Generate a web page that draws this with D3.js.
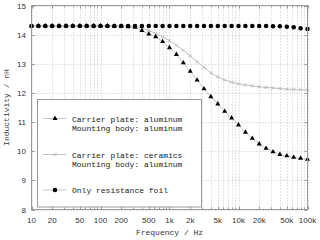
<!DOCTYPE html>
<html>
<head>
<meta charset="utf-8">
<script src="https://cdn.jsdelivr.net/npm/d3@7"></script>
<style>
  body { margin: 0; background: #fff; }
  svg { display: block; }
</style>
</head>
<body>
<svg width="320" height="240"></svg>
<script>
// frequency points, Hz (10 per decade)
const freq = [10, 12.59, 15.85, 19.95, 25.12, 31.62, 39.81, 50.12, 63.10, 79.43,
  100, 125.9, 158.5, 199.5, 251.2, 316.2, 398.1, 501.2, 631.0, 794.3,
  1000, 1259, 1585, 1995, 2512, 3162, 3981, 5012, 6310, 7943,
  10000, 12589, 15849, 19953, 25119, 31623, 39811, 50119, 63096, 79433, 100000];

// inductivity, nH
const aluminum = [14.30, 14.30, 14.30, 14.30, 14.30, 14.30, 14.30, 14.30, 14.30, 14.30,
  14.30, 14.30, 14.29, 14.29, 14.27, 14.25, 14.14, 14.02, 13.93, 13.76,
  13.55, 13.32, 13.03, 12.74, 12.44, 12.14, 11.87, 11.62, 11.37, 11.14,
  10.90, 10.65, 10.44, 10.25, 10.10, 9.98, 9.89, 9.84, 9.79, 9.76, 9.72];
const ceramics = [14.30, 14.30, 14.30, 14.30, 14.30, 14.30, 14.30, 14.30, 14.30, 14.30,
  14.30, 14.30, 14.30, 14.30, 14.29, 14.28, 14.22, 14.14, 14.04, 13.93,
  13.79, 13.63, 13.46, 13.27, 13.07, 12.88, 12.69, 12.55, 12.44, 12.37,
  12.31, 12.27, 12.24, 12.21, 12.19, 12.17, 12.15, 12.13, 12.12, 12.11, 12.10];
const foil = [14.30, 14.30, 14.30, 14.30, 14.30, 14.30, 14.30, 14.30, 14.30, 14.30,
  14.30, 14.30, 14.30, 14.30, 14.30, 14.30, 14.30, 14.30, 14.30, 14.30,
  14.30, 14.30, 14.30, 14.30, 14.30, 14.30, 14.30, 14.30, 14.30, 14.30,
  14.30, 14.30, 14.30, 14.30, 14.30, 14.29, 14.29, 14.27, 14.25, 14.22, 14.19];

const xTickValues = [10, 20, 50, 100, 200, 500, 1000, 2000, 5000, 10000, 20000, 50000, 100000];
const xTickLabels = ["10", "20", "50", "100", "200", "500", "1k", "2k", "5k", "10k", "20k", "50k", "100k"];
const yTickValues = [8, 9, 10, 11, 12, 13, 14, 15];

const legendLabels = [
  ["Carrier plate: aluminum", "Mounting body: aluminum"],
  ["Carrier plate: ceramics", "Mounting body: aluminum"],
  ["Only resistance foil"]
];

const svg = d3.select("svg");
const pLeft = 31.5, pRight = 307.5, pTop = 5.5, pBottom = 209.5;
const mono = "'Liberation Mono', 'DejaVu Sans Mono', monospace";
const sans = "'Liberation Sans', Arial, sans-serif";

const x = d3.scaleLog().domain([10, 100000]).range([pLeft, pRight]);
const y = d3.scaleLinear().domain([8, 15]).range([pBottom, pTop]);

svg.append("rect").attr("width", 320).attr("height", 240).attr("fill", "#fff");

// grid (dotted), all log minor lines + integer y lines
const grid = svg.append("g").attr("stroke", "#c8c8c8").attr("stroke-width", 1)
  .attr("stroke-dasharray", "1,2");
grid.selectAll("line.gx").data(x.ticks()).join("line")
  .attr("x1", d => Math.round(x(d)) + 0.5).attr("x2", d => Math.round(x(d)) + 0.5)
  .attr("y1", pTop).attr("y2", pBottom);
grid.selectAll("line.gy").data(yTickValues).join("line")
  .attr("x1", pLeft).attr("x2", pRight)
  .attr("y1", d => Math.round(y(d)) + 0.5).attr("y2", d => Math.round(y(d)) + 0.5);

// series
const pts = (vals) => freq.map((f, i) => [f, vals[i]]);
const line = d3.line().x(d => x(d[0])).y(d => y(d[1]));
const tri = d3.symbol().type(d3.symbolTriangle).size(11);
const sym = d3.symbol().type(d3.symbolCircle).size(16);

function drawAluminum(g, data) {
  g.append("path").datum(data).attr("d", line)
    .attr("fill", "none").attr("stroke", "#aaa").attr("stroke-width", 0.7);
  g.selectAll("path.m").data(data).join("path").attr("class", "m")
    .attr("d", tri).attr("fill", "#000")
    .attr("transform", d => `translate(${x(d[0])},${y(d[1])})`);
}
function drawCross(g, cx, cy) {
  g.append("path")
    .attr("d", `M${cx - 1.6},${cy - 1.6}L${cx + 1.6},${cy + 1.6}M${cx - 1.6},${cy + 1.6}L${cx + 1.6},${cy - 1.6}`)
    .attr("stroke", "#b4b4b4").attr("stroke-width", 0.8);
}
function drawCeramics(g, data) {
  g.append("path").datum(data).attr("d", line)
    .attr("fill", "none").attr("stroke", "#c0c0c0").attr("stroke-width", 1);
  data.forEach(d => drawCross(g, x(d[0]), y(d[1])));
}
function drawFoil(g, data) {
  g.selectAll("path.m").data(data).join("path").attr("class", "m")
    .attr("d", sym).attr("fill", "#000")
    .attr("transform", d => `translate(${x(d[0])},${y(d[1])})`);
}

drawCeramics(svg.append("g"), pts(ceramics));
drawAluminum(svg.append("g"), pts(aluminum));
drawFoil(svg.append("g"), pts(foil));

// legend
const lg = svg.append("g");
lg.append("rect").attr("x", 37.5).attr("y", 99.5).attr("width", 164).attr("height", 107.5)
  .attr("fill", "#fff").attr("stroke", "#999").attr("stroke-width", 1);
const rowsY = [118.5, 154.5, 190];
rowsY.forEach((ry, i) => {
  lg.append("line").attr("x1", 43).attr("x2", 66).attr("y1", ry).attr("y2", ry)
    .attr("stroke", i == 1 ? "#c0c0c0" : "#aaa").attr("stroke-width", i == 1 ? 1 : 0.7);
  if (i == 0) lg.append("path").attr("d", tri).attr("fill", "#000").attr("transform", `translate(55,${ry})`);
  if (i == 1) drawCross(lg, 55, ry);
  if (i == 2) lg.append("path").attr("d", sym).attr("fill", "#000").attr("transform", `translate(55,${ry})`);
  legendLabels[i].forEach((t, j) => {
    lg.append("text").attr("x", 72).attr("y", ry + 3 + j * 9).text(t)
      .attr("font-family", mono).attr("font-size", 8).attr("fill", "#222");
  });
});

// frame and ticks
const frame = svg.append("g").attr("stroke", "#999").attr("stroke-width", 1).attr("fill", "none");
frame.append("rect").attr("x", pLeft).attr("y", pTop).attr("width", pRight - pLeft).attr("height", pBottom - pTop);
const isMajor = d => xTickValues.includes(d);
frame.selectAll("line.bx").data(x.ticks()).join("line")
  .attr("x1", d => Math.round(x(d)) + 0.5).attr("x2", d => Math.round(x(d)) + 0.5)
  .attr("y1", pBottom).attr("y2", d => pBottom - (isMajor(d) ? 3 : 2));
frame.selectAll("line.tx").data(x.ticks()).join("line")
  .attr("x1", d => Math.round(x(d)) + 0.5).attr("x2", d => Math.round(x(d)) + 0.5)
  .attr("y1", pTop).attr("y2", d => pTop + (isMajor(d) ? 3 : 2));
frame.selectAll("line.ly").data(yTickValues).join("line")
  .attr("x1", pLeft).attr("x2", pLeft + 3)
  .attr("y1", d => Math.round(y(d)) + 0.5).attr("y2", d => Math.round(y(d)) + 0.5);
frame.selectAll("line.ry").data(yTickValues).join("line")
  .attr("x1", pRight).attr("x2", pRight - 3)
  .attr("y1", d => Math.round(y(d)) + 0.5).attr("y2", d => Math.round(y(d)) + 0.5);

// tick labels
svg.append("g").selectAll("text").data(xTickValues).join("text")
  .attr("x", d => x(d)).attr("y", 223)
  .attr("text-anchor", "middle").attr("font-family", sans).attr("font-size", 8).attr("fill", "#333")
  .text((d, i) => xTickLabels[i]);
svg.append("g").selectAll("text").data(yTickValues).join("text")
  .attr("x", 26).attr("y", d => y(d) + 3)
  .attr("text-anchor", "end").attr("font-family", sans).attr("font-size", 8).attr("fill", "#333")
  .text(d => d);

// axis titles
svg.append("text").attr("x", (pLeft + pRight) / 2).attr("y", 235)
  .attr("text-anchor", "middle").attr("font-family", mono).attr("font-size", 8).attr("fill", "#333")
  .text("Frequency / Hz");
svg.append("text").attr("transform", `translate(9,${(pTop + pBottom) / 2}) rotate(-90)`)
  .attr("text-anchor", "middle").attr("font-family", mono).attr("font-size", 8).attr("fill", "#333")
  .text("Inductivity / nH");
</script>
</body>
</html>
